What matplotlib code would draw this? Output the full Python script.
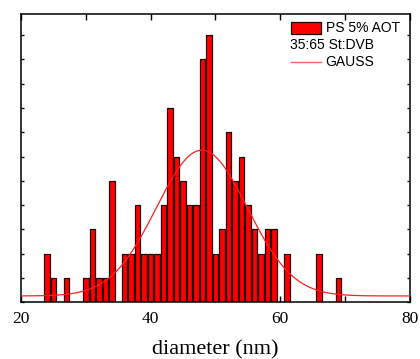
import numpy as np
import matplotlib
matplotlib.use('Agg')
import matplotlib.pyplot as plt
from matplotlib.patches import Rectangle
from matplotlib.lines import Line2D
from matplotlib.ticker import MultipleLocator

# histogram of particle diameters (1 nm bins)
diameters = [24, 25, 27, 30, 31, 32, 33, 34, 36, 37, 38, 39, 40, 41, 42, 43, 44, 45,
             46, 47, 48, 49, 50, 51, 52, 53, 54, 55, 56, 57, 58, 59, 61, 66, 69]
counts = [2, 1, 1, 1, 3, 1, 1, 5, 2, 2, 4, 2, 2, 2, 4, 8, 6, 5,
          4, 4, 10, 11, 2, 3, 7, 5, 6, 4, 3, 2, 3, 3, 2, 2, 1]

# gaussian fit parameters
gauss_y0 = 0.26
gauss_amp = 6.0
gauss_xc = 47.9
gauss_sigma = 7.0

bar_label = 'PS 5% AOT'
sub_label = '35:65 St:DVB'
fit_label = 'GAUSS'

fig = plt.figure(figsize=(4.2, 3.59), dpi=100)
ax = fig.add_axes([0.05, 0.158, 0.926, 0.804])

ax.bar(diameters, counts, width=0.85, color='#ff0000', edgecolor='#200000',
       linewidth=0.9, zorder=2)

xs = np.linspace(20, 80, 400)
ys = gauss_y0 + gauss_amp * np.exp(-(xs - gauss_xc) ** 2 / (2 * gauss_sigma ** 2))
ax.plot(xs, ys, color='#ff2020', linewidth=0.9, zorder=3)

ax.set_xlim(20, 80)
ax.set_ylim(0, 11.88)
ax.xaxis.set_major_locator(MultipleLocator(20))
ax.xaxis.set_minor_locator(MultipleLocator(10))
ax.yaxis.set_major_locator(MultipleLocator(1))
ax.tick_params(axis='x', which='both', direction='in', top=True, bottom=True,
               length=4, width=1, pad=6, labelsize=12.5)
ax.tick_params(axis='y', which='both', direction='in', left=True, right=True,
               length=2.5, width=1, labelleft=False)
for lab in ax.get_xticklabels():
    lab.set_fontfamily('Liberation Serif')
for sp in ax.spines.values():
    sp.set_linewidth(1.1)

ax.set_xlabel('diameter (nm)', fontfamily='Liberation Serif', fontsize=16, labelpad=10)

# legend drawn in axes coordinates
tr = ax.transAxes
ax.add_patch(Rectangle((0.694, 0.931), 0.077, 0.04, transform=tr,
                       facecolor='#ff0000', edgecolor='#200000', linewidth=0.9, zorder=5))
ax.text(0.783, 0.951, bar_label, transform=tr, fontsize=10,
        fontfamily='Liberation Sans', va='center', ha='left', zorder=5)
ax.text(0.692, 0.891, sub_label, transform=tr, fontsize=10,
        fontfamily='Liberation Sans', va='center', ha='left', zorder=5)
ax.add_line(Line2D([0.694, 0.771], [0.833, 0.833], transform=tr,
                   color='#ff6060', linewidth=1.0, zorder=5))
ax.text(0.783, 0.833, fit_label, transform=tr, fontsize=10,
        fontfamily='Liberation Sans', va='center', ha='left', zorder=5)

fig.savefig('out.png', dpi=100)
